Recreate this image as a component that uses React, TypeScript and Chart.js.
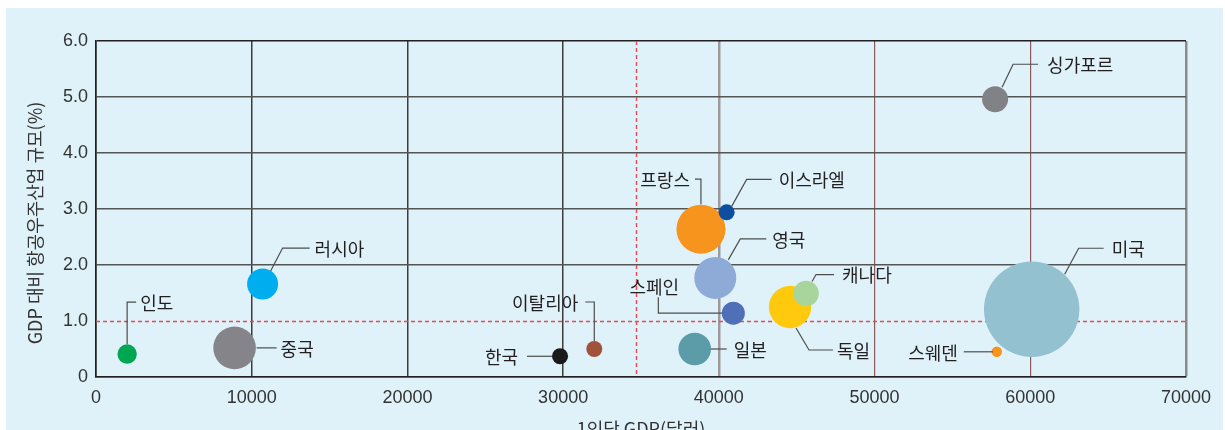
import React, { useEffect, useRef } from "react";
import { Chart, registerables } from "chart.js";

Chart.register(...registerables);

// ---- data ----
const countries = ["인도", "중국", "러시아", "한국", "이탈리아", "일본", "프랑스", "영국", "이스라엘", "스페인", "독일", "캐나다", "싱가포르", "미국", "스웨덴"];
const gdpPerCapita = [2000, 8900, 10700, 29800, 32000, 38450, 38850, 39770, 40500, 40930, 44570, 45600, 57740, 60090, 57850];
const aerospaceShare = [0.41, 0.52, 1.66, 0.37, 0.5, 0.5, 2.64, 1.77, 2.94, 1.14, 1.25, 1.49, 4.96, 1.21, 0.45];
const bubbleSize = [9.7, 21.3, 15.5, 8, 8, 16.3, 24.5, 21, 8, 11.5, 21.2, 12.8, 13, 47.7, 5.2];
const xTicks = [0, 10000, 20000, 30000, 40000, 50000, 60000, 70000];
const yTicks = [0, 1, 2, 3, 4, 5, 6];
const avgGdpLine = 34700;
const shareLine = 1.0;
const xTitle = "1인당 GDP(달러)";
const yTitle = "GDP 대비 항공우주산업 규모(%)";

// ---- styles ----
const bubbleColors = ["#00a651", "#858589", "#00aeef", "#1a1a1a", "#a0523d", "#5b9ca8", "#f7941d", "#8eabd8", "#0d4ea0", "#4f6fb8", "#ffc90d", "#a8d59c", "#808285", "#93c1d0", "#f7941d"];
type LabelStyle = { path: number[][]; text: [number, number, CanvasTextAlign] };
const labelStyles: LabelStyle[] = [
  { path: [[0, -10], [0, -52], [9, -52]], text: [13, -52, "left"] },
  { path: [[22, 0], [42, 0]], text: [46, 0, "left"] },
  { path: [[8, -13], [20, -36], [47, -36]], text: [52, -36, "left"] },
  { path: [[-8, 0], [-33, 0]], text: [-42, 0, "right"] },
  { path: [[0, -8], [0, -47], [-9, -47]], text: [-16, -47, "right"] },
  { path: [[16, 0], [32, 0]], text: [39, 0, "left"] },
  { path: [[0, -25], [0, -50], [-6, -50]], text: [-11, -50, "right"] },
  { path: [[13, -18], [25, -39], [51, -39]], text: [57, -39, "left"] },
  { path: [[5, -6], [20, -33], [45, -33]], text: [52, -33, "left"] },
  { path: [[-11, 0], [-75, 0], [-75, -16]], text: [-79, -27, "center"] },
  { path: [[6, 21], [19, 43], [43, 43]], text: [47, 43, "left"] },
  { path: [[6, -12], [10, -19], [28, -19]], text: [36, -19, "left"] },
  { path: [[7, -12], [18, -35], [43, -35]], text: [52, -35, "left"] },
  { path: [[33, -35], [47, -61], [72, -61]], text: [80, -61, "left"] },
  { path: [[-4, 0], [-33, 0]], text: [-39, 0, "right"] },
];
const KR = '"Noto Sans CJK KR", "Noto Sans", sans-serif';
const TICK_FONT = '"Liberation Sans", Arial, sans-serif';
const W = 1217;
const H = 422;

const decorPlugin = {
  id: "decor",
  beforeDraw(chart: any) {
    const ctx = chart.ctx;
    ctx.save();
    ctx.fillStyle = "#dff2fa";
    ctx.fillRect(0, 0, chart.width, chart.height);
    ctx.restore();
  },
  beforeDatasetsDraw(chart: any) {
    const { ctx, chartArea: a, scales } = chart;
    ctx.save();
    ctx.strokeStyle = "#ec4653";
    ctx.lineWidth = 1.4;
    ctx.setLineDash([4, 3]);
    const yy = Math.round(scales.y.getPixelForValue(shareLine)) + 0.5;
    ctx.beginPath();
    ctx.moveTo(a.left, yy);
    ctx.lineTo(a.right, yy);
    ctx.stroke();
    const xx = Math.round(scales.x.getPixelForValue(avgGdpLine)) + 0.5;
    ctx.beginPath();
    ctx.moveTo(xx, a.top);
    ctx.lineTo(xx, a.bottom);
    ctx.stroke();
    ctx.restore();
  },
  afterDatasetsDraw(chart: any) {
    const { ctx, scales, chartArea: a } = chart;
    ctx.save();
    ctx.strokeStyle = "#4d4d4d";
    ctx.lineWidth = 1.2;
    ctx.fillStyle = "#231f20";
    ctx.font = `18px ${KR}`;
    ctx.textBaseline = "middle";
    countries.forEach((name, i) => {
      const cx = scales.x.getPixelForValue(gdpPerCapita[i]);
      const cy = scales.y.getPixelForValue(aerospaceShare[i]);
      const st = labelStyles[i];
      ctx.beginPath();
      st.path.forEach((p, k) => {
        if (k === 0) ctx.moveTo(cx + p[0], cy + p[1]);
        else ctx.lineTo(cx + p[0], cy + p[1]);
      });
      ctx.stroke();
      ctx.textAlign = st.text[2];
      ctx.fillText(name, cx + st.text[0], cy + st.text[1] + 1);
    });
    // axis titles
    ctx.fillStyle = "#333333";
    ctx.font = `18px ${KR}`;
    ctx.textAlign = "center";
    ctx.save();
    ctx.translate(29, 215);
    ctx.rotate(-Math.PI / 2);
    ctx.fillText(yTitle, 0, 0);
    ctx.restore();
    ctx.fillText(xTitle, (a.left + a.right) / 2, 421);
    ctx.restore();
  },
};

export default function App() {
  const ref = useRef<HTMLCanvasElement>(null);
  useEffect(() => {
    if (!ref.current) return;
    const chart = new Chart(ref.current, {
      type: "bubble",
      data: {
        datasets: [
          {
            data: countries.map((_, i) => ({ x: gdpPerCapita[i], y: aerospaceShare[i], r: bubbleSize[i] })),
            backgroundColor: bubbleColors,
            borderWidth: 0,
            hoverBorderWidth: 0,
            clip: false,
          },
        ],
      },
      options: {
        animation: false,
        responsive: false,
        devicePixelRatio: 1,
        events: [],
        layout: { autoPadding: false, padding: { left: 0, right: 37, top: 33, bottom: 0 } },
        plugins: { legend: { display: false }, tooltip: { enabled: false } },
        scales: {
          x: {
            type: "linear",
            min: xTicks[0],
            max: xTicks[xTicks.length - 1],
            afterBuildTicks: (s: any) => {
              s.ticks = xTicks.map((v) => ({ value: v }));
            },
            afterFit: (s: any) => {
              s.height = 53;
              s.paddingLeft = 0;
              s.paddingRight = 0;
              s.paddingTop = 0;
              s.paddingBottom = 0;
            },
            ticks: {
              padding: 10,
              color: "#333333",
              font: { family: TICK_FONT, size: 18 },
              callback: (v: any) => String(v),
              maxRotation: 0,
            },
            grid: {
              drawTicks: false,
              color: (c: any) => {
                const v = c.tick?.value;
                if (v === 0) return "#231f20";
                if (v === 40000) return "#a09a9c";
                if (v === 70000) return "#8a8a8a";
                if (v === 50000 || v === 60000) return "#8c5a5a";
                return "#3d3d3d";
              },
              lineWidth: (c: any) => {
                const v = c.tick?.value;
                if (v === 40000 || v === 70000) return 2.5;
                if (v === 50000 || v === 60000) return 1.2;
                return 1.5;
              },
            },
            border: { display: true, color: "#231f20", width: 1.5 },
          },
          y: {
            type: "linear",
            min: yTicks[0],
            max: yTicks[yTicks.length - 1],
            afterBuildTicks: (s: any) => {
              s.ticks = yTicks.map((v) => ({ value: v }));
            },
            afterFit: (s: any) => {
              s.width = 90;
              s.paddingLeft = 0;
              s.paddingRight = 0;
              s.paddingTop = 0;
              s.paddingBottom = 0;
            },
            ticks: {
              padding: 8,
              color: "#333333",
              font: { family: TICK_FONT, size: 18 },
              callback: (v: any) => (v === 0 ? "0" : Number(v).toFixed(1)),
            },
            grid: {
              drawTicks: false,
              color: (c: any) => {
                const v = c.tick?.value;
                if (v === shareLine) return "rgba(0,0,0,0)";
                return v === 6 ? "#231f20" : "#555555";
              },
              lineWidth: 1.6,
            },
            border: { display: true, color: "#231f20", width: 1.5 },
          },
        },
      },
      plugins: [decorPlugin],
    });
    return () => chart.destroy();
  }, []);
  return (
    <div style={{ position: "fixed", left: 6, top: 8, width: W, height: H }}>
      <canvas ref={ref} width={W} height={H} style={{ display: "block" }} />
    </div>
  );
}
